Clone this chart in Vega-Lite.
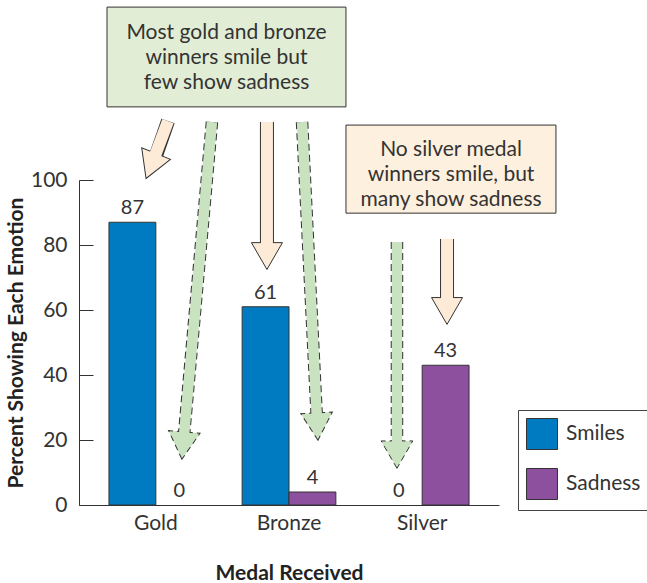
{
  "$schema": "https://vega.github.io/schema/vega-lite/v6.json",
  "width": 420,
  "height": 325,
  "autosize": {"type": "none"},
  "padding": {"left": 79, "top": 180, "right": 148, "bottom": 78},
  "background": "white",
  "config": {
    "font": "Lato",
    "view": {"stroke": null},
    "axis": {"labelFont": "Lato", "titleFont": "Lato", "labelColor": "#333", "titleColor": "#222", "domainColor": "#333", "tickColor": "#333", "grid": false}
  },
  "datasets": {
    "bars": [
      {"medal": "Gold", "type": "Smiles", "value": 87},
      {"medal": "Gold", "type": "Sadness", "value": 0},
      {"medal": "Bronze", "type": "Smiles", "value": 61},
      {"medal": "Bronze", "type": "Sadness", "value": 4},
      {"medal": "Silver", "type": "Smiles", "value": 0},
      {"medal": "Silver", "type": "Sadness", "value": 43}
    ],
    "beigeArrows": [
      {"id": "A", "tx": 0.090, "ty": 118.15, "bx": 0.004, "by": 108.0, "hx": -0.037, "hy": 104.3, "angle": 22},
      {"id": "C", "tx": 0.831, "ty": 117.85, "bx": 0.831, "by": 80.6, "hx": 0.831, "hy": 76.6, "angle": 0},
      {"id": "F", "tx": 2.180, "ty": 81.85, "bx": 2.180, "by": 64.0, "hx": 2.180, "hy": 59.7, "angle": 0}
    ],
    "greenArrows": [
      {"id": "B", "tx": 0.419, "ty": 117.85, "bx": 0.211, "by": 22.15, "hx": 0.203, "hy": 18.3, "angle": 5},
      {"id": "D", "tx": 1.094, "ty": 117.85, "bx": 1.203, "by": 28.3, "hx": 1.208, "hy": 24.15, "angle": -3},
      {"id": "E", "tx": 1.805, "ty": 80.9, "bx": 1.805, "by": 19.7, "hx": 1.805, "hy": 15.5, "angle": 0}
    ],
    "boxes": [
      {"box": "left", "x1": -0.367, "x2": 1.423, "y1": 153.2, "y2": 122.5},
      {"box": "right", "x1": 1.423, "x2": 2.996, "y1": 116.9, "y2": 89.8}
    ],
    "notes": [
      {"box": "left", "x": 0.528, "y": 145.23, "text": "Most gold and bronze"},
      {"box": "left", "x": 0.528, "y": 137.54, "text": "winners smile but"},
      {"box": "left", "x": 0.528, "y": 129.85, "text": "few show sadness"},
      {"box": "right", "x": 2.21, "y": 109.23, "text": "No silver medal"},
      {"box": "right", "x": 2.21, "y": 101.54, "text": "winners smile, but"},
      {"box": "right", "x": 2.21, "y": 93.85, "text": "many show sadness"}
    ]
  },
  "resolve": {"scale": {"x": "independent", "y": "independent"}},
  "layer": [
    {
      "data": {"name": "bars"},
      "encoding": {
        "x": {
          "field": "medal", "type": "nominal", "sort": ["Gold", "Bronze", "Silver"],
          "scale": {"paddingInner": 0.296, "paddingOuter": 0.225},
          "axis": {"title": "Medal Received", "labelAngle": 0, "ticks": false, "labelPadding": 7, "labelFontSize": 21, "titlePadding": 29, "titleFontSize": 21, "titleFontWeight": "bold"}
        },
        "xOffset": {"field": "type", "type": "nominal", "sort": ["Smiles", "Sadness"], "scale": {"paddingInner": 0}},
        "y": {
          "field": "value", "type": "quantitative",
          "scale": {"domain": [0, 100], "nice": false},
          "axis": {"values": [0, 20, 40, 60, 80, 100], "tickSize": -14, "labelPadding": 26, "labelFontSize": 21, "title": "Percent Showing Each Emotion", "titleFontSize": 21, "titleFontWeight": "bold", "titlePadding": 4}
        }
      },
      "layer": [
        {
          "mark": {"type": "bar", "stroke": "#333", "strokeWidth": 1, "opacity": 1},
          "encoding": {
            "color": {
              "field": "type", "type": "nominal",
              "scale": {"domain": ["Smiles", "Sadness"], "range": ["#007bc2", "#8c509f"]},
              "legend": {"title": null, "orient": "none", "legendX": 439, "legendY": 230, "symbolType": "square", "symbolSize": 961, "symbolStrokeColor": "#333", "symbolStrokeWidth": 1, "symbolOpacity": 1, "labelFontSize": 21, "labelFont": "Lato", "labelColor": "#333", "strokeColor": "#444", "fillColor": "white", "padding": 8, "rowPadding": 14, "labelOffset": 8}
            },
            "strokeOpacity": {"condition": {"test": "datum.value == 0", "value": 0}, "value": 1}
          }
        },
        {
          "mark": {"type": "text", "baseline": "bottom", "dy": -4, "fontSize": 20, "color": "#333", "font": "Lato"},
          "encoding": {"text": {"field": "value", "type": "quantitative"}}
        }
      ]
    },
    {
      "layer": [
        {
          "data": {"name": "beigeArrows"},
          "mark": {"type": "rule", "stroke": "#333", "strokeWidth": 14, "strokeCap": "butt"},
          "encoding": {
            "x": {"field": "tx", "type": "quantitative", "scale": {"domain": [-0.5768, 2.5693], "nice": false, "zero": false}, "axis": null},
            "y": {"field": "ty", "type": "quantitative", "scale": {"domain": [0, 100], "nice": false}, "axis": null},
            "x2": {"field": "bx"},
            "y2": {"field": "by"}
          }
        },
        {
          "data": {"name": "beigeArrows"},
          "mark": {"type": "point", "shape": "triangle-down", "filled": true, "fill": "#fdebd7", "stroke": "#333", "strokeWidth": 1, "size": 961, "opacity": 1},
          "encoding": {
            "x": {"field": "hx", "type": "quantitative", "scale": {"domain": [-0.5768, 2.5693], "nice": false, "zero": false}, "axis": null},
            "y": {"field": "hy", "type": "quantitative", "scale": {"domain": [0, 100], "nice": false}, "axis": null},
            "angle": {"field": "angle", "type": "quantitative", "scale": null}
          }
        },
        {
          "data": {"name": "beigeArrows"},
          "mark": {"type": "rule", "stroke": "#fdebd7", "strokeWidth": 12, "strokeCap": "butt"},
          "encoding": {
            "x": {"field": "tx", "type": "quantitative", "scale": {"domain": [-0.5768, 2.5693], "nice": false, "zero": false}, "axis": null},
            "y": {"field": "ty", "type": "quantitative", "scale": {"domain": [0, 100], "nice": false}, "axis": null},
            "x2": {"field": "hx"},
            "y2": {"field": "hy"}
          }
        },
        {
          "data": {"name": "greenArrows"},
          "mark": {"type": "rule", "stroke": "#333", "strokeWidth": 12.5, "strokeCap": "butt", "strokeDash": [7, 4]},
          "encoding": {
            "x": {"field": "tx", "type": "quantitative", "scale": {"domain": [-0.5768, 2.5693], "nice": false, "zero": false}, "axis": null},
            "y": {"field": "ty", "type": "quantitative", "scale": {"domain": [0, 100], "nice": false}, "axis": null},
            "x2": {"field": "bx"},
            "y2": {"field": "by"}
          }
        },
        {
          "data": {"name": "greenArrows"},
          "mark": {"type": "point", "shape": "triangle-down", "filled": true, "fill": "#c9e2c0", "stroke": "#333", "strokeWidth": 1, "strokeDash": [6, 4], "size": 1000, "opacity": 1},
          "encoding": {
            "x": {"field": "hx", "type": "quantitative", "scale": {"domain": [-0.5768, 2.5693], "nice": false, "zero": false}, "axis": null},
            "y": {"field": "hy", "type": "quantitative", "scale": {"domain": [0, 100], "nice": false}, "axis": null},
            "angle": {"field": "angle", "type": "quantitative", "scale": null}
          }
        },
        {
          "data": {"name": "greenArrows"},
          "mark": {"type": "rule", "stroke": "#c9e2c0", "strokeWidth": 10.5, "strokeCap": "butt"},
          "encoding": {
            "x": {"field": "tx", "type": "quantitative", "scale": {"domain": [-0.5768, 2.5693], "nice": false, "zero": false}, "axis": null},
            "y": {"field": "ty", "type": "quantitative", "scale": {"domain": [0, 100], "nice": false}, "axis": null},
            "x2": {"field": "hx"},
            "y2": {"field": "hy"}
          }
        },
        {
          "data": {"name": "boxes"},
          "mark": {"type": "rect", "stroke": "#333", "strokeWidth": 1, "opacity": 1},
          "encoding": {
            "x": {"field": "x1", "type": "quantitative", "scale": {"domain": [-0.5768, 2.5693], "nice": false, "zero": false}, "axis": null},
            "x2": {"field": "x2"},
            "y": {"field": "y1", "type": "quantitative", "scale": {"domain": [0, 100], "nice": false}, "axis": null},
            "y2": {"field": "y2"},
            "fill": {"field": "box", "type": "nominal", "scale": {"domain": ["left", "right"], "range": ["#e2edd5", "#fdf0de"]}, "legend": null}
          }
        },
        {
          "data": {"name": "notes"},
          "mark": {"type": "text", "fontSize": 21, "color": "#333", "font": "Lato", "baseline": "middle", "align": "center"},
          "encoding": {
            "x": {"field": "x", "type": "quantitative", "scale": {"domain": [-0.5768, 2.5693], "nice": false, "zero": false}, "axis": null},
            "y": {"field": "y", "type": "quantitative", "scale": {"domain": [0, 100], "nice": false}, "axis": null},
            "text": {"field": "text"}
          }
        }
      ]
    }
  ]
}
